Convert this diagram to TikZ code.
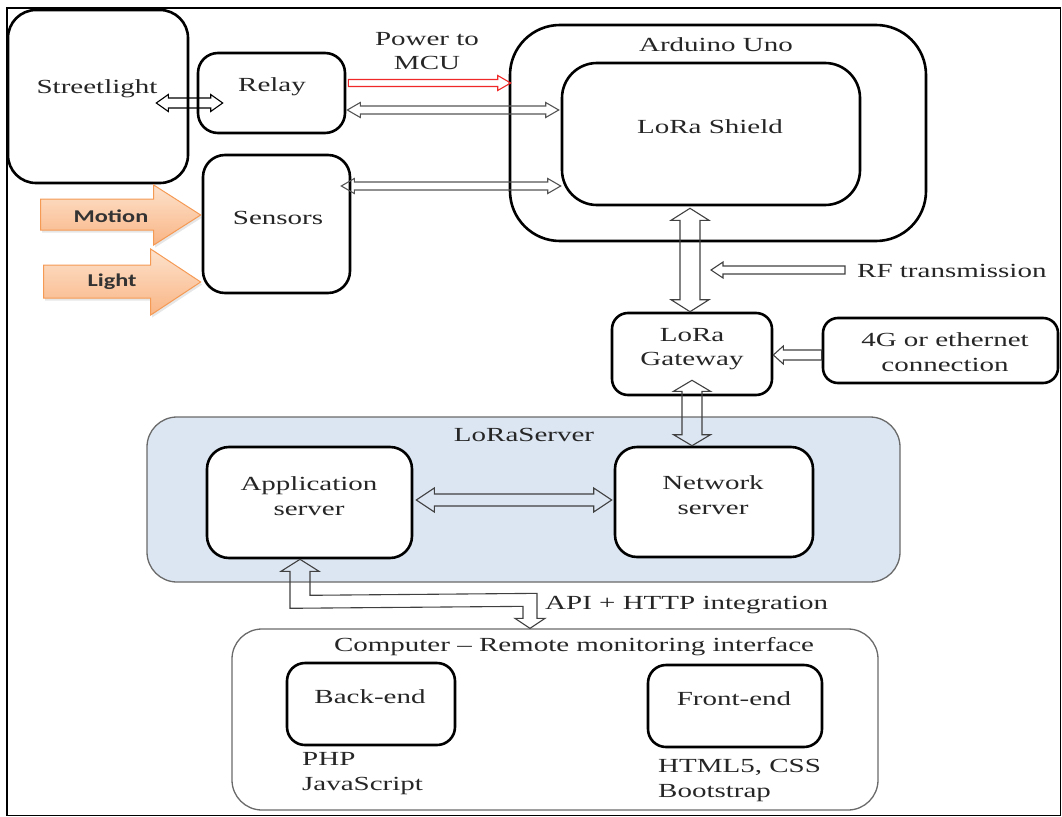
\documentclass[tikz,border=0pt]{standalone}
\usepackage{fontspec}
\setmainfont{Liberation Serif}[FakeStretch=1.45]
\newfontfamily\arrfont{Carlito}[FakeStretch=1.35]
\usetikzlibrary{calc,shadows}
\definecolor{srvblue}{HTML}{DCE6F2}
\definecolor{srvborder}{HTML}{6A6A6A}
\definecolor{arrorange}{HTML}{F59A55}
\definecolor{orangetop}{HTML}{FDE2CC}
\definecolor{orangebot}{HTML}{F9B585}
\definecolor{arrgray}{HTML}{555555}
\definecolor{pwrred}{HTML}{F02828}

% hollow single arrow: style, tail, tip, body half width, head half width, head length
\newcommand{\sglarrow}[6]{%
  \coordinate (tB) at ($(#3)!#6!(#2)$);
  \draw[#1] ($(#2)!#4!90:(#3)$) -- ($(tB)!#4!-90:(#2)$) -- ($(tB)!#5!-90:(#2)$)
    -- (#3) -- ($(tB)!#5!90:(#2)$) -- ($(tB)!#4!90:(#2)$) -- ($(#2)!#4!-90:(#3)$) -- cycle;}
% hollow double arrow: style, tip A, tip B, body half width, head half width, head length
\newcommand{\dblarrow}[6]{%
  \coordinate (tA) at ($(#2)!#6!(#3)$);
  \coordinate (tB) at ($(#3)!#6!(#2)$);
  \draw[#1] (#2) -- ($(tA)!#5!90:(#3)$) -- ($(tA)!#4!90:(#3)$) -- ($(tB)!#4!-90:(#2)$)
    -- ($(tB)!#5!-90:(#2)$) -- (#3) -- ($(tB)!#5!90:(#2)$) -- ($(tB)!#4!90:(#2)$)
    -- ($(tA)!#4!-90:(#3)$) -- ($(tA)!#5!-90:(#3)$) -- cycle;}

\begin{document}
\begin{tikzpicture}[x=1pt,y=-1pt,
  box/.style={draw, line width=2.6pt, rounded corners=#1, fill=white, inner sep=0pt},
  box/.default=20pt,
  txt/.style={font=\fontsize{20}{24.5}\selectfont, align=center, inner sep=0pt, text=black!85},
  harrow/.style={draw=#1, line width=1.1pt, line join=miter},
  harrow/.default=arrgray,
  orangearr/.style={draw=arrorange, line width=1pt, top color=orangetop, bottom color=orangebot,
    drop shadow={opacity=0.2, shadow xshift=1.5pt, shadow yshift=-2.5pt}},
  arrtxt/.style={font=\arrfont\bfseries\fontsize{18}{20}\selectfont, inner sep=0pt, text=black!80}
  ]
\useasboundingbox (0,0) rectangle (1062,816);
\draw[line width=1.4pt] (7,8) rectangle (1060.5,815.3);

% ---- boxes ----
\node[box=28pt, minimum width=180pt, minimum height=173pt] (street) at (98,96.5) {};
\node[box=20pt, minimum width=147pt, minimum height=80pt] (relay) at (271.5,93) {};
\node[box=22pt, minimum width=147pt, minimum height=138pt] (sensors) at (276.5,224) {};
\node[box=50pt, minimum width=416pt, minimum height=216pt] (ard) at (718,133) {};
\node[box=35pt, minimum width=298pt, minimum height=142pt] (shield) at (711,134) {};
\node[box=16pt, minimum width=160pt, minimum height=82pt] (gw) at (692,354) {};
\node[box=15pt, minimum width=235pt, minimum height=65pt] (fourg) at (940.5,350.5) {};
\node[draw=srvborder, line width=1.3pt, fill=srvblue, rounded corners=30pt, inner sep=0pt,
      minimum width=753pt, minimum height=165pt] (lsrv) at (523.5,499.5) {};
\node[box=22pt, minimum width=205pt, minimum height=111pt] (app) at (309.5,502.5) {};
\node[box=22pt, minimum width=198pt, minimum height=110pt] (net) at (714,502) {};
\node[draw=srvborder, line width=1.3pt, rounded corners=30pt, inner sep=0pt,
      minimum width=646pt, minimum height=181pt] (comp) at (555,719.5) {};
\node[box=18pt, minimum width=168pt, minimum height=82pt] (back) at (371,704) {};
\node[box=18pt, minimum width=174pt, minimum height=82pt] (front) at (735,706) {};

% ---- texts ----
\node[txt] (streetT) at (97,89) {Streetlight};
\node[txt] (relayT) at (272,87) {Relay};
\node[txt] (sensT) at (278,218) {Sensors};
\node[txt] (powT) at (427,51) {Power to\\MCU};
\node[txt] (ardT) at (716,45) {Arduino Uno};
\node[txt] (shT) at (710,127) {LoRa Shield};
\node[txt, anchor=west] (rft) at (857,271) {RF transmission};
\node[txt] (gwT) at (692,349) {LoRa\\Gateway};
\node[txt] (fgT) at (945,352) {4G or ethernet\\connection};
\node[txt] (lsT) at (524,435) {LoRaServer};
\node[txt] (appT) at (309,496) {Application\\server};
\node[txt] (netT) at (713,495) {Network\\server};
\node[txt, anchor=west] (apiT) at (545,605) {API + HTTP integration};
\node[txt] (compT) at (574,647) {Computer – Remote monitoring interface};
\node[txt] (backT) at (370,697) {Back-end};
\node[txt] (frontT) at (734,699) {Front-end};
\node[txt, anchor=west, align=left] (phpT) at (302,773.5) {PHP\\JavaScript};
\node[txt, anchor=west, align=left] (htmlT) at (658,780.5) {HTML5, CSS\\Bootstrap};

% ---- orange input arrows ----
\coordinate (motTip) at ($(sensors.west)+(-1,-9)$);
\coordinate (ligTip) at ($(sensors.west)+(-1,58)$);
\draw[orangearr] ($(motTip)+(-160,-16)$) -- ($(motTip)+(-47,-16)$) -- ($(motTip)+(-47,-30)$)
  -- (motTip) -- ($(motTip)+(-47,30)$) -- ($(motTip)+(-47,15)$) -- ($(motTip)+(-160,15)$) -- cycle;
\draw[orangearr] ($(ligTip)+(-157,-17)$) -- ($(ligTip)+(-50,-17)$) -- ($(ligTip)+(-50,-33)$)
  -- (ligTip) -- ($(ligTip)+(-50,33)$) -- ($(ligTip)+(-50,16)$) -- ($(ligTip)+(-157,16)$) -- cycle;
\node[arrtxt] (motT) at (111,216) {Motion};
\node[arrtxt] (ligT) at (112,282) {Light};

% ---- connectors ----
\coordinate (s1) at ($(street.east)+(-33,6.5)$);
\coordinate (s2) at ($(relay.west)+(26,10)$);
\dblarrow{harrow=black}{s1}{s2}{5pt}{8.5pt}{12pt}

\coordinate (p1) at ($(relay.east)+(2,-10)$);
\coordinate (p2) at ($(ard.west |- p1)+(2,0)$);
\sglarrow{harrow=pwrred}{p1}{p2}{3.5pt}{7.5pt}{13pt}

\coordinate (r1) at ($(relay.east)+(1,17)$);
\coordinate (r2) at ($(shield.west |- r1)+(-2,0)$);
\dblarrow{harrow}{r1}{r2}{4pt}{7.5pt}{13pt}

\coordinate (n1) at ($(sensors.east)+(-10,-38)$);
\coordinate (n2) at (shield.west |- n1);
\dblarrow{harrow}{n1}{n2}{4pt}{7.5pt}{13pt}

\coordinate (g1) at ($(shield.south)+(-21,2)$);
\coordinate (g2) at (g1 |- gw.north);
\dblarrow{harrow=black!75}{g1}{g2}{10pt}{19pt}{12pt}

\coordinate (rf1) at ($(rft.west)+(-12,-1)$);
\coordinate (rf2) at ($(rft.west)+(-146,-1)$);
\sglarrow{harrow=black!75}{rf1}{rf2}{4pt}{8pt}{12pt}

\coordinate (f1) at ($(fourg.west)+(0,4.5)$);
\coordinate (f2) at (gw.east |- f1);
\sglarrow{harrow=black!75}{f1}{f2}{5pt}{9pt}{10pt}

\coordinate (w1) at ($(gw.south)+(0,-16)$);
\coordinate (w2) at (w1 |- net.north);
\dblarrow{harrow=black!75}{w1}{w2}{10pt}{18.5pt}{11pt}

\coordinate (a1) at ($(app.east)+(3,-2.5)$);
\coordinate (a2) at ($(net.west |- a1)+(-2,0)$);
\dblarrow{harrow=black!75}{a1}{a2}{6pt}{12pt}{18pt}

% API + HTTP L-shaped arrow
\coordinate (apT) at ($(app.south)+(-9.5,0)$);
\coordinate (apB) at ($(comp.north)+(-25,0)$);
\draw[harrow=black!75] (apT) -- ($(apT)+(19,12)$) -- ($(apT)+(10,12)$) -- ($(apT)+(10,36)$)
  -- ($(apB)+(7,-35)$) -- ($(apB)+(7,-10)$) -- ($(apB)+(15,-10)$) -- (apB)
  -- ($(apB)+(-15,-10)$) -- ($(apB)+(-7,-10)$) -- ($(apB)+(-7,-22)$)
  -- ($(apT)+(-10,49)$) -- ($(apT)+(-10,12)$) -- ($(apT)+(-19,12)$) -- cycle;
\end{tikzpicture}
\end{document}
